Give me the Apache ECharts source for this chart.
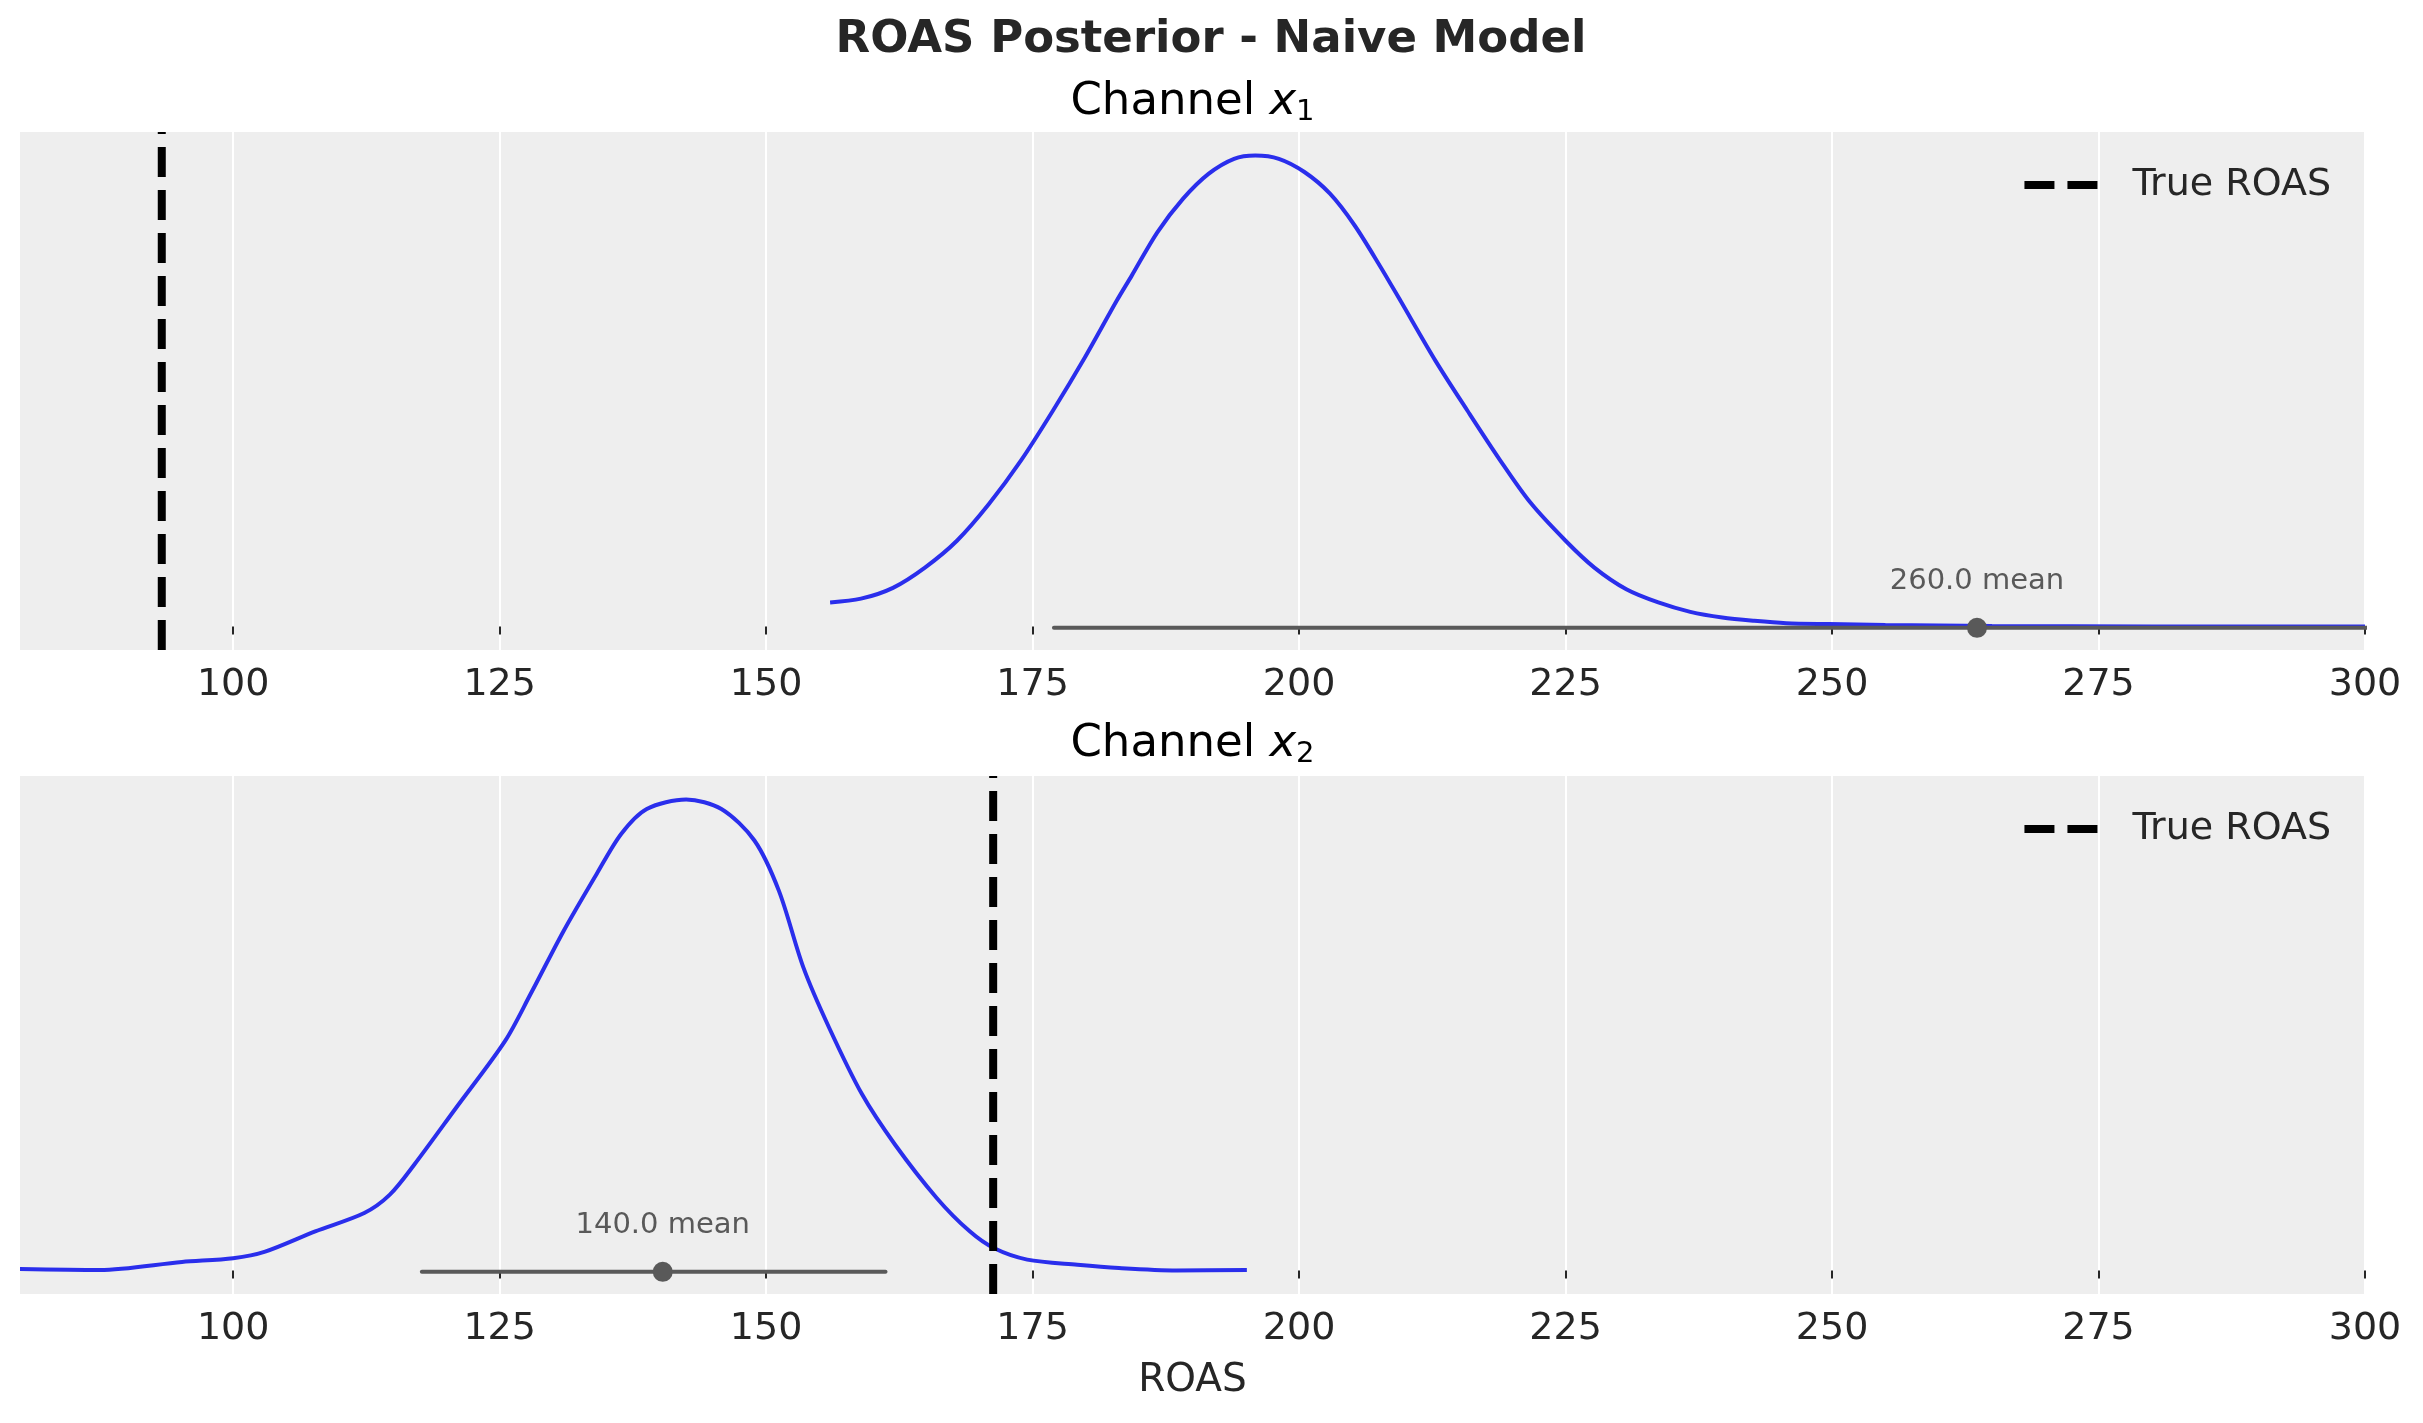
<!DOCTYPE html>
<html>
<head>
<meta charset="utf-8">
<script src="https://cdn.jsdelivr.net/npm/echarts@6.0.0/dist/echarts.min.js"></script>
<style>
html,body{margin:0;padding:0;background:#fff;}
#chart{width:2423px;height:1423px;}
</style>
</head>
<body>
<div id="chart"></div>
<script>
// ---------- data ----------
const mainTitle = 'ROAS Posterior - Naive Model';
const panelTitles = ['Channel ', 'Channel '];
const panelSubs = ['1', '2'];
const xName = 'ROAS';
const legendLabel = 'True ROAS';
const xTicks = [100, 125, 150, 175, 200, 225, 250, 275, 300];
const xMin = 80, xMax = 300;
const yMin = -0.05, yMax = 1.05;

// Channel x1 posterior density (normalised to peak = 1)
const roas1 = [156.0,158.9,161.9,164.9,167.9,170.9,173.9,176.9,179.9,182.9,184.3,186.7,189.1,191.5,193.9,195.9,198.1,200.5,202.9,205.2,207.6,209.5,212.8,215.8,218.8,221.7,225.0,227.7,230.7,233.7,236.7,239.7,242.7,245.7,249.7,255,265,280,300];
const dens1 = [0.051,0.059,0.082,0.125,0.182,0.260,0.352,0.458,0.571,0.692,0.745,0.837,0.908,0.961,0.993,1.000,0.993,0.965,0.919,0.852,0.765,0.692,0.564,0.458,0.355,0.263,0.182,0.125,0.079,0.051,0.031,0.019,0.012,0.007,0.005,0.003,0.001,0.000,0.000];
const trueRoas1 = 93.3;
const hdi1 = [177.0, 350];
const mean1 = 263.6;
const meanLabel1 = '260.0 mean';

// Channel x2 posterior density
const roas2 = [80.0,87.5,95.2,100,103.0,107.7,112.3,114.7,117.0,120.9,125.5,127.9,131.0,134.1,136.4,138.8,142.5,145.8,148.9,151.2,153.5,155.9,159.0,162.1,166.0,169.1,171.4,174.5,179.2,183.1,188.5,195.1];
const dens2 = [0.003,0.001,0.018,0.026,0.040,0.083,0.122,0.161,0.225,0.345,0.487,0.587,0.721,0.842,0.927,0.980,1.000,0.980,0.913,0.806,0.643,0.516,0.374,0.267,0.154,0.083,0.047,0.023,0.012,0.005,0.000,0.001];
const trueRoas2 = 171.3;
const hdi2 = [117.7, 161.2];
const mean2 = 140.3;
const meanLabel2 = '140.0 mean';
const hdiY = -0.003;

// ---------- styling ----------
const FONT = '"DejaVu Sans", "Liberation Sans", sans-serif';
const BLUE = '#2a2eec';
const GRAY = '#595959';
const TXT = '#262626';

const chart = echarts.init(document.getElementById('chart'), null, {renderer: 'canvas'});

function xAxisCfg(gridIndex, withName) {
  const a = {
    type: 'value', gridIndex: gridIndex, min: xMin, max: xMax,
    axisLine: {show: false},
    axisTick: {show: true, length: 8, customValues: xTicks, lineStyle: {color: TXT, width: 2}},
    axisLabel: {show: true, customValues: xTicks, margin: 16, fontSize: 38, color: TXT, fontFamily: FONT},
    splitLine: {show: true, lineStyle: {color: '#ffffff', width: 2}}
  };
  if (withName) {
    a.name = xName;
    a.nameLocation = 'middle';
    a.nameGap = 67;
    a.nameTextStyle = {fontSize: 39, color: TXT, fontFamily: FONT};
  }
  return a;
}
function yAxisCfg(gridIndex) {
  return {type: 'value', gridIndex: gridIndex, min: yMin, max: yMax, show: false,
          splitLine: {show: false}};
}
function pairs(xs, ys) { return xs.map((x, i) => [x, ys[i]]); }

function panelSeries(i, xs, ys, trueR, hdi, mean, meanLabel) {
  return [
    {type: 'line', name: 'posterior' + i, xAxisIndex: i, yAxisIndex: i,
     data: pairs(xs, ys), smooth: 0.3, showSymbol: false, symbol: 'none',
     lineStyle: {color: BLUE, width: 4}, z: 2, silent: true},
    {type: 'line', name: legendLabel, xAxisIndex: i, yAxisIndex: i,
     data: [[trueR, yMin], [trueR, yMax]], symbol: 'none', showSymbol: false,
     itemStyle: {color: '#000'},
     lineStyle: {color: '#000', width: 8, type: [30, 13]}, z: 5, silent: true},
    {type: 'line', name: 'hdi' + i, xAxisIndex: i, yAxisIndex: i,
     data: [[hdi[0], hdiY], [hdi[1], hdiY]], symbol: 'none', showSymbol: false,
     lineStyle: {color: GRAY, width: 4, cap: 'round', opacity: 1}, z: 3, silent: true},
    {type: 'scatter', name: 'mean' + i, xAxisIndex: i, yAxisIndex: i,
     data: [[mean, hdiY]], symbol: 'circle', symbolSize: 20,
     itemStyle: {color: GRAY, opacity: 1},
     label: {show: true, position: 'top', distance: 22, formatter: meanLabel,
             fontSize: 29, color: GRAY, opacity: 1, fontFamily: FONT},
     z: 4, silent: true}
  ];
}

function legendCfg(top) {
  return {
    top: top, right: 92, padding: 0, orient: 'vertical',
    data: [legendLabel], selectedMode: false,
    itemWidth: 75, itemHeight: 20,
    itemStyle: {opacity: 0},
    lineStyle: {width: 8, color: '#000', type: [30, 13]},
    textStyle: {fontSize: 38, color: TXT, fontFamily: FONT, padding: [0, 0, 0, 28]}
  };
}

function channelTitle(y, idx) {
  return {
    type: 'text', x: 1192.5, y: y, z: 10,
    style: {
      text: '{a|' + panelTitles[idx] + '}{x|x}{s|' + panelSubs[idx] + '}',
      align: 'center', verticalAlign: 'middle',
      rich: {
        a: {fontSize: 45, fontFamily: FONT, fill: '#000', lineHeight: 48},
        x: {fontSize: 45, fontFamily: FONT, fontStyle: 'italic', fill: '#000', lineHeight: 48},
        s: {fontSize: 29, fontFamily: FONT, fill: '#000', verticalAlign: 'bottom'}
      }
    }
  };
}

const option = {
  animation: false,
  backgroundColor: '#ffffff',
  textStyle: {fontFamily: FONT},
  grid: [
    {left: 20, right: 58, top: 132, height: 518, show: true, backgroundColor: '#eeeeee', borderWidth: 0, containLabel: false},
    {left: 20, right: 58, top: 776, height: 518, show: true, backgroundColor: '#eeeeee', borderWidth: 0, containLabel: false}
  ],
  xAxis: [xAxisCfg(0, false), xAxisCfg(1, true)],
  yAxis: [yAxisCfg(0), yAxisCfg(1)],
  legend: [legendCfg(166), legendCfg(810)],
  graphic: [
    {type: 'text', x: 1211, y: 40.5, z: 10,
     style: {text: mainTitle, fontSize: 45, fontWeight: 'bold', fontFamily: FONT,
             fill: TXT, align: 'center', verticalAlign: 'middle'}},
    channelTitle(102.5, 0),
    channelTitle(744.6, 1)
  ],
  series: [].concat(
    panelSeries(0, roas1, dens1, trueRoas1, hdi1, mean1, meanLabel1),
    panelSeries(1, roas2, dens2, trueRoas2, hdi2, mean2, meanLabel2)
  )
};
chart.setOption(option);
</script>
</body>
</html>
